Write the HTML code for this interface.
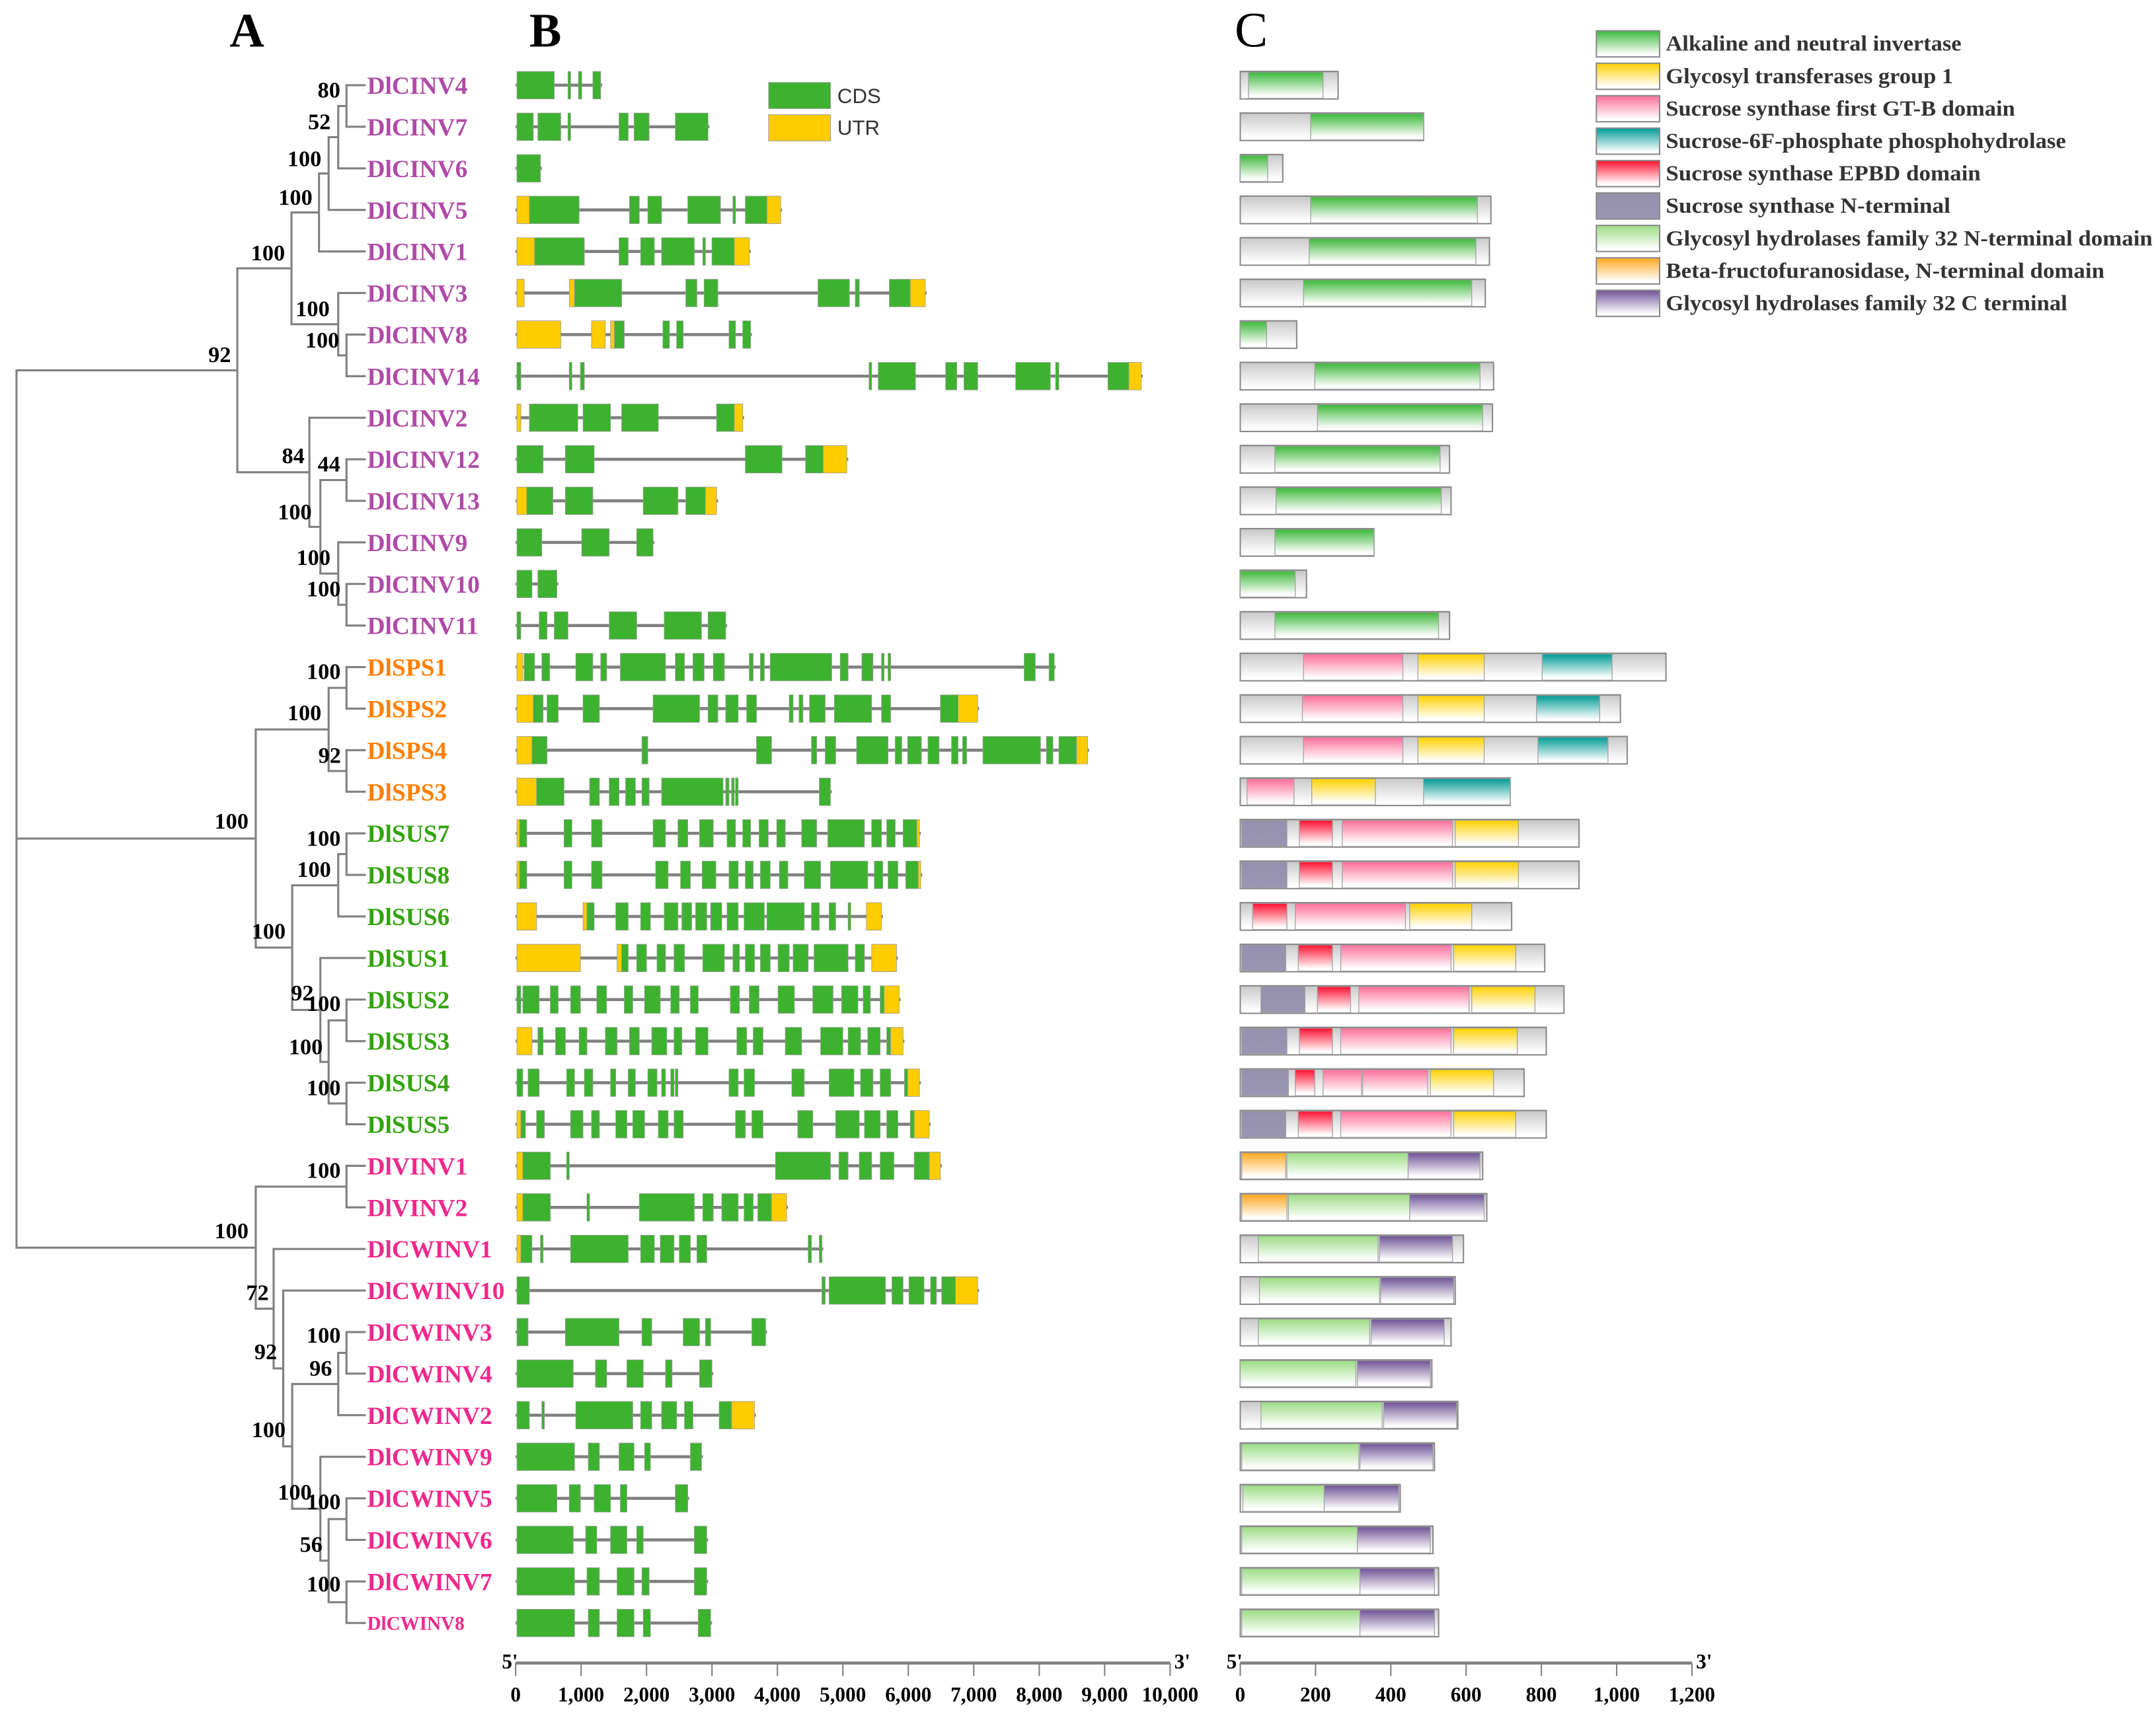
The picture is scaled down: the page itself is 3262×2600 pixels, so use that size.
<!DOCTYPE html>
<html><head><meta charset="utf-8"><title>Sucrose gene family: phylogeny, gene structure, domains</title>
<style>
html,body{margin:0;padding:0;background:#fff;}
svg{display:block;}
.lbl{font-family:"Liberation Serif",serif;font-weight:bold;font-size:18px;}
.bs{font-family:"Liberation Serif",serif;font-weight:bold;font-size:16.5px;fill:#000;}
.tick{font-family:"Liberation Serif",serif;font-weight:bold;font-size:15px;fill:#000;}
.leg{font-family:"Liberation Serif",serif;font-weight:bold;font-size:15.5px;fill:#333;}
</style></head>
<body>
<svg id="fig" width="3262" height="2600" viewBox="0 0 1568 1250" preserveAspectRatio="none" xmlns="http://www.w3.org/2000/svg">
<defs>
<linearGradient id="g-gray" x1="0" y1="0" x2="0" y2="1"><stop offset="0" stop-color="#c8c8c8"/><stop offset="0.9" stop-color="#ffffff"/></linearGradient>
<linearGradient id="g-alk" x1="0" y1="0" x2="0" y2="1"><stop offset="0" stop-color="#3db83a"/><stop offset="0.9" stop-color="#ffffff"/></linearGradient>
<linearGradient id="g-gt1" x1="0" y1="0" x2="0" y2="1"><stop offset="0" stop-color="#ffd000"/><stop offset="0.9" stop-color="#ffffff"/></linearGradient>
<linearGradient id="g-gtb" x1="0" y1="0" x2="0" y2="1"><stop offset="0" stop-color="#ff6f9a"/><stop offset="0.9" stop-color="#ffffff"/></linearGradient>
<linearGradient id="g-s6p" x1="0" y1="0" x2="0" y2="1"><stop offset="0" stop-color="#009a94"/><stop offset="0.9" stop-color="#ffffff"/></linearGradient>
<linearGradient id="g-epbd" x1="0" y1="0" x2="0" y2="1"><stop offset="0" stop-color="#ff1030"/><stop offset="0.9" stop-color="#ffffff"/></linearGradient>
<linearGradient id="g-nterm" x1="0" y1="0" x2="0" y2="1"><stop offset="0" stop-color="#9590ae"/><stop offset="1" stop-color="#9a95b2"/></linearGradient>
<linearGradient id="g-gh32n" x1="0" y1="0" x2="0" y2="1"><stop offset="0" stop-color="#9bdc84"/><stop offset="0.9" stop-color="#ffffff"/></linearGradient>
<linearGradient id="g-bfn" x1="0" y1="0" x2="0" y2="1"><stop offset="0" stop-color="#ffa820"/><stop offset="0.9" stop-color="#ffffff"/></linearGradient>
<linearGradient id="g-gh32c" x1="0" y1="0" x2="0" y2="1"><stop offset="0" stop-color="#6f5396"/><stop offset="0.9" stop-color="#ffffff"/></linearGradient>
</defs>
<text x="167" y="34" font-family="Liberation Serif, serif" font-weight="bold" font-size="35">A</text>
<text x="385" y="34" font-family="Liberation Serif, serif" font-weight="bold" font-size="35">B</text>
<text x="898" y="34" font-family="Liberation Serif, serif" font-size="36">C</text>
<g id="tree"></g>
<g id="labels"></g>
<g id="genes"></g>
<g id="prots"></g>
<g id="axes"></g>
<g>
 <rect x="559" y="60" width="45" height="19" fill="#3db22f" stroke="#999" stroke-width="0.5"/>
 <text x="609" y="75" font-family="Liberation Sans, sans-serif" font-size="15" fill="#333">CDS</text>
 <rect x="559" y="83.5" width="45" height="19" fill="#ffcc00" stroke="#999" stroke-width="0.5"/>
 <text x="609" y="98" font-family="Liberation Sans, sans-serif" font-size="15" fill="#333">UTR</text>
</g>
<g id="domlegend"></g>
</svg>
<script>
// ---------- data ----------
const geneNames = ["DlCINV4","DlCINV7","DlCINV6","DlCINV5","DlCINV1","DlCINV3","DlCINV8","DlCINV14","DlCINV2","DlCINV12","DlCINV13","DlCINV9","DlCINV10","DlCINV11",
"DlSPS1","DlSPS2","DlSPS4","DlSPS3",
"DlSUS7","DlSUS8","DlSUS6","DlSUS1","DlSUS2","DlSUS3","DlSUS4","DlSUS5",
"DlVINV1","DlVINV2","DlCWINV1","DlCWINV10","DlCWINV3","DlCWINV4","DlCWINV2","DlCWINV9","DlCWINV5","DlCWINV6","DlCWINV7","DlCWINV8"];
const geneGroups = ["CINV","CINV","CINV","CINV","CINV","CINV","CINV","CINV","CINV","CINV","CINV","CINV","CINV","CINV",
"SPS","SPS","SPS","SPS","SUS","SUS","SUS","SUS","SUS","SUS","SUS","SUS",
"INV","INV","INV","INV","INV","INV","INV","INV","INV","INV","INV","INV"];
const groupColors = {CINV:"#b04aa8",SPS:"#ff7f00",SUS:"#33a40e",INV:"#f0288c"};
// gene structures: [start bp, end bp, C=CDS / U=UTR]
const geneSegments = [
[[20,590,"C"],[800,840,"C"],[960,1010,"C"],[1180,1300,"C"]],
[[20,270,"C"],[340,690,"C"],[800,840,"C"],[1580,1720,"C"],[1810,2040,"C"],[2440,2940,"C"]],
[[20,380,"C"]],
[[20,210,"U"],[210,970,"C"],[1740,1890,"C"],[2020,2230,"C"],[2630,3130,"C"],[3320,3360,"C"],[3510,3840,"C"],[3840,4050,"U"]],
[[20,290,"U"],[290,1050,"C"],[1580,1720,"C"],[1910,2120,"C"],[2230,2730,"C"],[2860,2900,"C"],[3000,3340,"C"],[3340,3570,"U"]],
[[20,130,"U"],[820,900,"U"],[900,1620,"C"],[2600,2770,"C"],[2880,3090,"C"],[4620,5100,"C"],[5190,5250,"C"],[5710,6030,"C"],[6030,6260,"U"]],
[[20,690,"U"],[1160,1370,"U"],[1450,1510,"U"],[1510,1660,"C"],[2250,2350,"C"],[2460,2560,"C"],[3260,3360,"C"],[3470,3590,"C"]],
[[20,80,"C"],[820,860,"C"],[990,1050,"C"],[5400,5440,"C"],[5540,6110,"C"],[6570,6740,"C"],[6850,7060,"C"],[7640,8170,"C"],[8250,8300,"C"],[9050,9370,"C"],[9370,9560,"U"]],
[[20,80,"U"],[210,950,"C"],[1030,1450,"C"],[1620,2180,"C"],[3070,3340,"C"],[3340,3470,"U"]],
[[20,420,"C"],[760,1200,"C"],[3510,4070,"C"],[4430,4700,"C"],[4700,5060,"U"]],
[[20,170,"U"],[170,570,"C"],[760,1180,"C"],[1950,2480,"C"],[2600,2900,"C"],[2900,3070,"U"]],
[[20,400,"C"],[1010,1430,"C"],[1850,2100,"C"]],
[[20,250,"C"],[340,630,"C"]],
[[20,80,"C"],[360,480,"C"],[590,800,"C"],[1430,1850,"C"],[2270,2840,"C"],[2940,3210,"C"]],
[[20,110,"U"],[130,290,"C"],[400,520,"C"],[920,1180,"C"],[1300,1390,"C"],[1600,2290,"C"],[2440,2580,"C"],[2710,2880,"C"],[3020,3190,"C"],[3570,3630,"C"],[3740,3800,"C"],[3890,4830,"C"],[4960,5080,"C"],[5290,5460,"C"],[5590,5630,"C"],[5690,5730,"C"],[7770,7940,"C"],[8150,8230,"C"]],
[[20,270,"U"],[270,420,"C"],[480,650,"C"],[1030,1280,"C"],[2100,2810,"C"],[2940,3090,"C"],[3210,3400,"C"],[3530,3680,"C"],[4180,4240,"C"],[4330,4390,"C"],[4490,4730,"C"],[4870,5440,"C"],[5590,5730,"C"],[6490,6760,"C"],[6760,7060,"U"]],
[[20,250,"U"],[250,480,"C"],[1930,2020,"C"],[3680,3910,"C"],[4520,4600,"C"],[4730,4890,"C"],[5210,5690,"C"],[5800,5900,"C"],[5990,6200,"C"],[6300,6470,"C"],[6660,6760,"C"],[6830,6890,"C"],[7140,8020,"C"],[8110,8210,"C"],[8300,8570,"C"],[8570,8740,"U"]],
[[20,320,"U"],[320,740,"C"],[1130,1280,"C"],[1430,1580,"C"],[1680,1830,"C"],[1930,2040,"C"],[2230,3170,"C"],[3210,3260,"C"],[3300,3340,"C"],[3360,3400,"C"],[4640,4810,"C"]],
[[20,60,"U"],[60,170,"C"],[740,860,"C"],[1160,1320,"C"],[2100,2290,"C"],[2480,2630,"C"],[2810,3020,"C"],[3230,3360,"C"],[3470,3590,"C"],[3720,3860,"C"],[3990,4120,"C"],[4370,4600,"C"],[4770,5330,"C"],[5440,5590,"C"],[5670,5800,"C"],[5920,6130,"C"],[6130,6170,"U"]],
[[20,60,"U"],[60,170,"C"],[740,860,"C"],[1160,1320,"C"],[2140,2330,"C"],[2520,2670,"C"],[2850,3060,"C"],[3260,3400,"C"],[3510,3630,"C"],[3740,3890,"C"],[4030,4160,"C"],[4410,4660,"C"],[4810,5380,"C"],[5480,5610,"C"],[5690,5840,"C"],[5960,6150,"C"],[6150,6190,"U"]],
[[20,320,"U"],[1030,1090,"U"],[1090,1200,"C"],[1530,1720,"C"],[1910,2060,"C"],[2270,2480,"C"],[2540,2690,"C"],[2750,2920,"C"],[2980,3150,"C"],[3230,3400,"C"],[3490,3800,"C"],[3840,4410,"C"],[4520,4640,"C"],[4790,4890,"C"],[5080,5120,"C"],[5360,5590,"U"]],
[[20,990,"U"],[1550,1620,"U"],[1620,1720,"C"],[1850,2000,"C"],[2160,2290,"C"],[2420,2580,"C"],[2860,3190,"C"],[3320,3420,"C"],[3510,3650,"C"],[3740,3890,"C"],[4010,4180,"C"],[4240,4470,"C"],[4560,5080,"C"],[5190,5330,"C"],[5440,5820,"U"]],
[[20,80,"C"],[110,360,"C"],[530,650,"C"],[840,990,"C"],[1240,1390,"C"],[1660,1790,"C"],[1970,2210,"C"],[2370,2500,"C"],[2670,2790,"C"],[3280,3420,"C"],[3570,3720,"C"],[4010,4260,"C"],[4540,4850,"C"],[4980,5230,"C"],[5310,5420,"C"],[5570,5630,"C"],[5630,5860,"U"]],
[[20,250,"U"],[340,420,"C"],[610,760,"C"],[970,1090,"C"],[1370,1550,"C"],[1740,1890,"C"],[2080,2310,"C"],[2420,2540,"C"],[2750,2940,"C"],[3380,3530,"C"],[3630,3780,"C"],[4120,4370,"C"],[4660,5000,"C"],[5080,5270,"C"],[5380,5570,"C"],[5670,5730,"C"],[5730,5920,"U"]],
[[20,110,"C"],[190,360,"C"],[780,900,"C"],[1050,1180,"C"],[1450,1530,"C"],[1720,1830,"C"],[2020,2160,"C"],[2230,2290,"C"],[2370,2420,"C"],[2440,2480,"C"],[3260,3400,"C"],[3490,3650,"C"],[4220,4410,"C"],[4790,5170,"C"],[5270,5460,"C"],[5570,5730,"C"],[5940,5990,"C"],[5990,6170,"U"]],
[[20,80,"U"],[80,150,"C"],[320,440,"C"],[840,1030,"C"],[1160,1280,"C"],[1530,1700,"C"],[1790,1970,"C"],[2180,2330,"C"],[2420,2560,"C"],[3360,3510,"C"],[3610,3780,"C"],[4310,4540,"C"],[4890,5250,"C"],[5330,5570,"C"],[5670,5840,"C"],[6030,6090,"C"],[6090,6320,"U"]],
[[20,110,"U"],[110,530,"C"],[780,820,"C"],[3970,4810,"C"],[4940,5080,"C"],[5250,5440,"C"],[5570,5780,"C"],[6090,6320,"C"],[6320,6490,"U"]],
[[20,110,"U"],[110,530,"C"],[1090,1130,"C"],[1890,2730,"C"],[2860,3020,"C"],[3150,3400,"C"],[3490,3630,"C"],[3700,3910,"C"],[3910,4140,"U"]],
[[20,80,"U"],[80,250,"C"],[380,420,"C"],[840,1720,"C"],[1910,2120,"C"],[2210,2420,"C"],[2500,2670,"C"],[2770,2920,"C"],[4470,4520,"C"],[4640,4680,"C"]],
[[20,210,"C"],[4680,4730,"C"],[4790,5650,"C"],[5750,5920,"C"],[6010,6240,"C"],[6340,6430,"C"],[6510,6720,"C"],[6720,7060,"U"]],
[[20,190,"C"],[760,1580,"C"],[1930,2080,"C"],[2560,2810,"C"],[2900,2980,"C"],[3610,3820,"C"]],
[[20,880,"C"],[1220,1390,"C"],[1700,1950,"C"],[2290,2390,"C"],[2810,3000,"C"]],
[[20,210,"C"],[400,440,"C"],[920,1790,"C"],[1910,2080,"C"],[2230,2460,"C"],[2580,2710,"C"],[3110,3300,"C"],[3300,3650,"U"]],
[[20,900,"C"],[1110,1280,"C"],[1580,1810,"C"],[1970,2060,"C"],[2670,2840,"C"]],
[[20,630,"C"],[820,990,"C"],[1200,1450,"C"],[1600,1700,"C"],[2440,2630,"C"]],
[[20,880,"C"],[1070,1240,"C"],[1450,1700,"C"],[1850,1950,"C"],[2730,2920,"C"]],
[[20,900,"C"],[1090,1280,"C"],[1550,1810,"C"],[1930,2040,"C"],[2730,2920,"C"]],
[[20,900,"C"],[1110,1280,"C"],[1550,1810,"C"],[1950,2060,"C"],[2790,2980,"C"]]
];
// protein lengths (aa)
const proteinLengths = [260,487,113,666,662,651,150,673,670,556,560,355,176,556,
1131,1010,1028,717, 900,900,721,809,860,813,754,813,
644,655,593,571,560,509,578,516,425,512,527,527];
// domains: [start aa, end aa, domain key]
const proteinDomains = [
[[22,220,"alk"]],[[187,487,"alk"]],[[0,73,"alk"]],[[187,630,"alk"]],[[183,626,"alk"]],[[168,615,"alk"]],[[0,70,"alk"]],[[198,637,"alk"]],[[205,644,"alk"]],[[92,531,"alk"]],[[95,534,"alk"]],[[92,355,"alk"]],[[0,146,"alk"]],[[92,527,"alk"]],
[[168,432,"gtb"],[472,648,"gt1"],[802,988,"s6p"]],
[[165,432,"gtb"],[472,648,"gt1"],[787,955,"s6p"]],
[[168,432,"gtb"],[472,648,"gt1"],[791,977,"s6p"]],
[[18,143,"gtb"],[190,359,"gt1"],[487,717,"s6p"]],
[[4,124,"nterm"],[157,245,"epbd"],[271,564,"gtb"],[571,739,"gt1"]],
[[4,124,"nterm"],[157,245,"epbd"],[271,564,"gtb"],[571,739,"gt1"]],
[[33,124,"epbd"],[146,439,"gtb"],[450,615,"gt1"]],
[[4,121,"nterm"],[154,245,"epbd"],[267,560,"gtb"],[567,732,"gt1"]],
[[55,172,"nterm"],[205,293,"epbd"],[315,608,"gtb"],[615,783,"gt1"]],
[[4,124,"nterm"],[157,245,"epbd"],[267,560,"gtb"],[567,736,"gt1"]],
[[4,128,"nterm"],[146,198,"epbd"],[220,322,"gtb"],[325,498,"gtb"],[505,673,"gt1"]],
[[4,121,"nterm"],[154,245,"epbd"],[267,560,"gtb"],[567,732,"gt1"]],
[[4,121,"bfn"],[124,446,"gh32n"],[446,637,"gh32c"]],
[[4,124,"bfn"],[128,450,"gh32n"],[450,648,"gh32c"]],
[[48,366,"gh32n"],[370,564,"gh32c"]],
[[51,370,"gh32n"],[373,567,"gh32c"]],
[[48,344,"gh32n"],[348,542,"gh32c"]],
[[0,307,"gh32n"],[311,505,"gh32c"]],
[[55,377,"gh32n"],[381,575,"gh32c"]],
[[4,315,"gh32n"],[318,512,"gh32c"]],
[[7,223,"gh32n"],[223,421,"gh32c"]],
[[4,311,"gh32n"],[311,505,"gh32c"]],
[[4,318,"gh32n"],[318,516,"gh32c"]],
[[4,318,"gh32n"],[318,516,"gh32c"]]
];
const domainKeys = ["alk","gt1","gtb","s6p","epbd","nterm","gh32n","bfn","gh32c"];
const domainNames = ["Alkaline and neutral invertase","Glycosyl transferases group 1","Sucrose synthase first GT-B domain","Sucrose-6F-phosphate phosphohydrolase","Sucrose synthase EPBD domain","Sucrose synthase N-terminal","Glycosyl hydrolases family 32 N-terminal domain","Beta-fructofuranosidase, N-terminal domain","Glycosyl hydrolases family 32 C terminal"];
const geneTicks = [0,1000,2000,3000,4000,5000,6000,7000,8000,9000,10000];
const geneTickLabels = ["0","1,000","2,000","3,000","4,000","5,000","6,000","7,000","8,000","9,000","10,000"];
const protTicks = [0,200,400,600,800,1000,1200];
const protTickLabels = ["0","200","400","600","800","1,000","1,200"];
// bootstrap values with label positions
const bootValues = ["80","52","100","100","100","100","100","92","84","44","100","100","100","100","100","92","100","100","100","100","92","100","100","100","100","100","72","100","92","96","100","100","100","56","100"];
const bootPos = [[231,71],[224,94],[209,121],[202.5,149],[182.5,189.5],[215,230],[222,253],[151.5,263.5],[205,337],[231,343],[202,378],[215.6,411],[223,434],[223,494],[209,524],[231.5,555],[156,603],[223,615.5],[216,638],[183,683],[211.6,728],[223,735.7],[210,767],[223,797],[223,857],[156,901],[179,946],[223,977],[185,989],[225,1001],[183,1045.6],[202,1091],[223,1098],[218,1129],[223,1158]];

// ---------- scales ----------
const rowY = i => 62 + i*30.24;
const gx = bp => 375 + bp*(851-375)/10000;
const px = aa => 902 + aa*(1230.5-902)/1200;
const NS = "http://www.w3.org/2000/svg";
function mk(tag, attrs, parent){const e=document.createElementNS(NS,tag);for(const k in attrs)e.setAttribute(k,attrs[k]);parent.appendChild(e);return e;}

// ---------- tree ----------
function N(x,...kids){return {x,kids};}
const tree = N(12,
  N(172.6,
    N(212, N(232, N(239, N(246, N(252,0,1),2),3),4), N(246,5,N(252,6,7))),
    N(225, 8, N(233, N(252,9,10), N(246,11,N(252,12,13))))),
  N(186,
    N(239, N(252,14,15), N(252,16,17)),
    N(212.5, N(246, N(252,18,19), 20), N(233, 21, N(239, N(252,22,23), N(252,24,25))))),
  N(186, N(252,26,27),
    N(199, 28, N(206, 29, N(212.5, N(246, N(252,30,31), 32), N(233, 33, N(239, N(252,34,35), N(252,36,37))))))));
const treeG = document.getElementById("tree");
function nodeY(n){ if(typeof n==="number") return rowY(n); const a=nodeY(n.kids[0]), b=nodeY(n.kids[n.kids.length-1]); return (a+b)/2; }
function drawNode(n){
  const ys = n.kids.map(nodeY);
  const v = mk("line",{x1:n.x,x2:n.x,y1:ys[0],y2:ys[ys.length-1],stroke:"#808080","stroke-width":1.5},treeG);
  
  
  n.kids.forEach((k,i)=>{
    const ex = (typeof k==="number") ? 266 : k.x;
    const h = mk("line",{x1:n.x-0.75,x2:ex,y1:ys[i],y2:ys[i],stroke:"#808080","stroke-width":1.5},treeG);
    
    
    if(typeof k!=="number") drawNode(k);
  });
}
drawNode(tree);
bootValues.forEach((v,i)=>{
  const t = mk("text",{x:bootPos[i][0],y:bootPos[i][1],class:"bs"},treeG);
  t.textContent = v;
  
  
});

// ---------- labels ----------
const labG = document.getElementById("labels");
geneNames.forEach((nm,i)=>{
  const t = mk("text",{x:267,y:rowY(i)+6.3,class:"lbl",fill:groupColors[geneGroups[i]]},labG);
  if(nm==="DlCWINV8"){ t.setAttribute("style","font-size:14px"); t.setAttribute("y", rowY(i)+5); }
  t.textContent = nm;
  
  
});

// ---------- gene structures ----------
const genG = document.getElementById("genes");
geneSegments.forEach((segs,i)=>{
  const y = rowY(i);
  const g = mk("g",{},genG);
  
  
  const s1 = Math.max(...segs.map(s=>s[1]));
  const ln = mk("line",{x1:gx(0),x2:gx(s1)+1,y1:y,y2:y,stroke:"#808080","stroke-width":2.2},g);
  
  
  segs.forEach(s=>{
    const r = mk("rect",{x:gx(s[0]),y:y-10,width:Math.max(1.2,gx(s[1])-gx(s[0])),height:20,fill:s[2]==="C"?"#3db22f":"#ffcc00",stroke:"#9a9a9a","stroke-width":0.4},g);
    
    
  });
});

// ---------- protein domains ----------
const prG = document.getElementById("prots");
proteinLengths.forEach((L,i)=>{
  const y = rowY(i);
  const g = mk("g",{},prG);
  
  
  const b = mk("rect",{x:px(0),y:y-10,width:px(L)-px(0),height:20,fill:"url(#g-gray)",stroke:"#8a8a8a","stroke-width":1},g);
  
  
  proteinDomains[i].forEach(d=>{
    const r = mk("rect",{x:px(d[0]),y:y-9.5,width:px(d[1])-px(d[0]),height:19,fill:"url(#g-"+d[2]+")",stroke:"#a0a0a0","stroke-width":0.6},g);
    
    
  });
  const top = mk("line",{x1:px(0),x2:px(L),y1:y-10,y2:y-10,stroke:"#8a8a8a","stroke-width":1},g);
  
  
});

// ---------- domain legend ----------
const dlG = document.getElementById("domlegend");
const legLens = [215,209,254,291,229,207,354,319,292];
domainKeys.forEach((k,i)=>{
  const y0 = 22.4 + i*23.6;
  const r = mk("rect",{x:1161,y:y0,width:46,height:19,fill:"url(#g-"+k+")",stroke:"#8a8a8a","stroke-width":1},dlG);
  
  
  const t = mk("text",{x:1211.5,y:y0+14.5,class:"leg",textLength:legLens[i],lengthAdjust:"spacingAndGlyphs"},dlG);
  t.textContent = domainNames[i];
  
  
});

// ---------- axes ----------
const axG = document.getElementById("axes");
function axis(x0,x1,ticks,labels,scale,nm){
  const g = mk("g",{},axG);
  
  
  const l = mk("line",{x1:x0,x2:x1,y1:1210,y2:1210,stroke:"#808080","stroke-width":2.2},g);
  
  
  ticks.forEach((v,i)=>{
    const tx = scale(v);
    const tk = mk("line",{x1:tx,x2:tx,y1:1210,y2:1219.5,stroke:"#808080","stroke-width":1},g);
    
    
    const t = mk("text",{x:tx,y:1238,class:"tick","text-anchor":"middle"},g);
    t.textContent = labels[i];
    
    
  });
  const a = mk("text",{x:x0-10,y:1214,class:"tick"},g);
  a.textContent = "5'";
  
  
  const b = mk("text",{x:x1+3,y:1214,class:"tick"},g);
  b.textContent = "3'";
  
  
}
axis(gx(0),gx(10000),geneTicks,geneTickLabels,gx,'gene-length-axis');
axis(px(0),px(1200),protTicks,protTickLabels,px,'protein-length-axis');
</script>
</body></html>
